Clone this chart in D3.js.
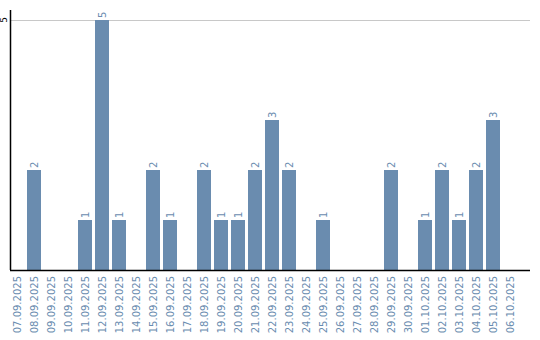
<!DOCTYPE html>
<html lang="en">
<head>
<meta charset="utf-8">
<title>Daily counts</title>
<script src="https://cdn.jsdelivr.net/npm/d3@7"></script>
<style>
  body { margin: 0; background: #fff; }
  text { font-family: "DejaVu Sans", Verdana, sans-serif; }
</style>
</head>
<body>
<script>
// dates (x categories)
var days = ["07.09.2025","08.09.2025","09.09.2025","10.09.2025","11.09.2025","12.09.2025",
  "13.09.2025","14.09.2025","15.09.2025","16.09.2025","17.09.2025","18.09.2025",
  "19.09.2025","20.09.2025","21.09.2025","22.09.2025","23.09.2025","24.09.2025",
  "25.09.2025","26.09.2025","27.09.2025","28.09.2025","29.09.2025","30.09.2025",
  "01.10.2025","02.10.2025","03.10.2025","04.10.2025","05.10.2025","06.10.2025"];
// counts per day
var counts = [0,2,0,0,1,5,1,0,2,1,0,2,1,1,2,3,2,0,1,0,0,0,2,0,1,2,1,2,3,0];
var yTicks = [5];

var w = 540, h = 340;
var marginLeft = 10, plotTop = 20, plotBottom = 270;

var svg = d3.select("body").append("svg").attr("width", w).attr("height", h);

var x = d3.scaleBand().domain(days).range([marginLeft - 1.5, marginLeft - 1.5 + days.length * 17])
  .paddingInner(3 / 17).paddingOuter(1.5 / 17);
var y = d3.scaleLinear().domain([0, 5]).range([plotBottom, plotTop]);

// gridline
svg.selectAll("line.grid").data(yTicks).enter().append("line")
  .attr("class", "grid")
  .attr("x1", marginLeft).attr("x2", 530)
  .attr("y1", function(d){ return y(d) + 0.5; })
  .attr("y2", function(d){ return y(d) + 0.5; })
  .attr("stroke", "#c8c8c8").attr("stroke-width", 1);

// bars
svg.selectAll("rect.bar").data(counts).enter().append("rect")
  .attr("class", "bar")
  .attr("x", function(d, i){ return x(days[i]); })
  .attr("y", function(d){ return y(d); })
  .attr("width", x.bandwidth())
  .attr("height", function(d){ return plotBottom - y(d); })
  .attr("fill", "#6a8caf");

// value labels above bars
counts.forEach(function(d, i){
  if (d <= 0) return;
  var cx = x(days[i]) + x.bandwidth() / 2;
  svg.append("text")
    .attr("transform", "translate(" + (cx + 3.5) + "," + (y(d) - 2) + ") rotate(-90)")
    .attr("font-size", 10)
    .attr("fill", "#6a8caf")
    .text(d);
});

// axis lines
svg.append("line").attr("x1", marginLeft + 0.5).attr("x2", marginLeft + 0.5).attr("y1", 10).attr("y2", plotBottom)
  .attr("stroke", "#000").attr("stroke-width", 1.5);
svg.append("line").attr("x1", marginLeft).attr("x2", 530).attr("y1", plotBottom + 0.5).attr("y2", plotBottom + 0.5)
  .attr("stroke", "#000").attr("stroke-width", 1.5);

// y tick labels
yTicks.forEach(function(t){
  svg.append("text")
    .attr("transform", "translate(7," + y(t) + ") rotate(-90)")
    .attr("text-anchor", "middle")
    .attr("font-size", 9)
    .attr("fill", "#000")
    .text(t);
});

// x labels
days.forEach(function(d){
  var cx = x(d) + x.bandwidth() / 2;
  svg.append("text")
    .attr("transform", "translate(" + (cx + 3.5) + "," + (plotBottom + 6) + ") rotate(-90)")
    .attr("text-anchor", "end")
    .attr("font-size", 10)
    .attr("fill", "#6a8caf")
    .text(d);
});
</script>
</body>
</html>
